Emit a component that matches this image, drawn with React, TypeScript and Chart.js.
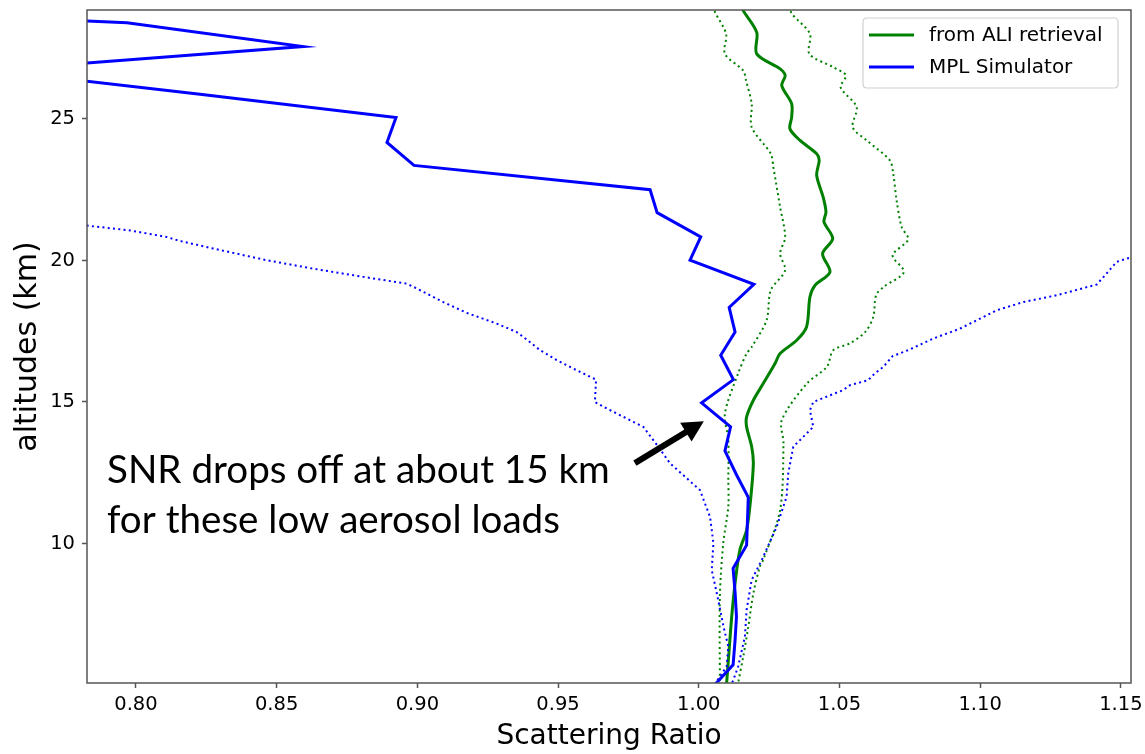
import React, { useEffect, useRef } from 'react';
import { Chart, registerables } from 'chart.js';

Chart.register(...registerables);

// ---------- data (altitude in km, scattering ratio) ----------
const mplAlt = [29.24, 28.40, 27.56, 26.72, 25.88, 25.05, 24.17, 23.36, 22.50, 21.69, 20.83, 20.01, 19.16, 18.34, 17.47, 16.65, 15.79, 14.97, 14.12, 13.27, 12.43, 11.63, 10.79, 9.94, 9.12, 8.28, 7.42, 6.58, 5.71, 4.87];
const mplVal = [0.600, 0.7968, 0.8593, 0.7485, 0.8220, 0.8924, 0.8892, 0.8988, 0.9827, 0.9852, 1.0007, 0.9969, 1.0196, 1.0108, 1.0129, 1.0078, 1.0123, 1.0010, 1.0113, 1.0093, 1.0134, 1.0176, 1.0173, 1.0170, 1.0122, 1.0129, 1.0134, 1.0129, 1.0122, 1.0044];

const mplLowAlt = [21.47, 21.22, 21.06, 20.83, 20.69, 20.42, 20.01, 19.71, 19.42, 19.18, 19.01, 18.53, 18.15, 17.77, 17.47, 17.21, 16.83, 16.48, 16.18, 15.79, 15.00, 14.77, 14.12, 13.42, 12.83, 11.89, 10.94, 10.01, 9.06, 8.25, 7.06, 6.36, 5.65, 5.12, 4.9];
const mplLowVal = [0.760, 0.7837, 0.7979, 0.8109, 0.8156, 0.8275, 0.8464, 0.8630, 0.8808, 0.8962, 0.8998, 0.9092, 0.9175, 0.9282, 0.9353, 0.9388, 0.9436, 0.9495, 0.9554, 0.9635, 0.9631, 0.9673, 0.9803, 0.9856, 0.9898, 1.0004, 1.0040, 1.0052, 1.0046, 1.0064, 1.0088, 1.0105, 1.0099, 1.0063, 1.0050];

const mplHighAlt = [20.55, 20.10, 19.95, 19.48, 19.15, 18.77, 18.53, 18.24, 17.59, 17.24, 16.83, 16.62, 16.24, 16.01, 15.77, 15.59, 15.42, 15.00, 14.71, 14.12, 13.42, 12.48, 11.65, 10.59, 9.42, 8.71, 7.65, 6.71, 5.65, 5.18, 4.9];
const mplHighVal = [1.175, 1.1532, 1.1485, 1.1444, 1.1414, 1.1272, 1.1153, 1.1059, 1.0928, 1.0833, 1.0744, 1.0689, 1.0656, 1.0626, 1.0602, 1.0537, 1.0513, 1.0407, 1.0395, 1.0407, 1.0336, 1.0318, 1.0312, 1.0277, 1.0224, 1.0188, 1.0170, 1.0164, 1.0140, 1.0123, 1.0110];

const aliAlt = [29.0, 28.83, 28.06, 27.30, 26.77, 26.54, 26.18, 25.54, 25.06, 24.65, 24.24, 23.77, 23.54, 23.01, 22.24, 21.71, 21.36, 20.77, 20.24, 19.59, 19.12, 18.71, 17.65, 17.18, 16.71, 16.36, 15.65, 15.06, 14.47, 14.12, 13.42, 12.83, 11.53, 10.47, 9.77, 8.59, 7.41, 6.24, 5.07, 4.9];
const aliVal = [1.0153, 1.0158, 1.0206, 1.0206, 1.0289, 1.0307, 1.0295, 1.0330, 1.0330, 1.0324, 1.0360, 1.0419, 1.0428, 1.0419, 1.0442, 1.0452, 1.0445, 1.0476, 1.0440, 1.0466, 1.0413, 1.0395, 1.0383, 1.0348, 1.0289, 1.0271, 1.0229, 1.0194, 1.0170, 1.0170, 1.0188, 1.0194, 1.0184, 1.0170, 1.0146, 1.0129, 1.0117, 1.0108, 1.0099, 1.0098];

const aliLowAlt = [29.0, 28.77, 28.01, 27.30, 26.71, 26.36, 25.54, 24.71, 23.77, 23.30, 21.89, 20.83, 20.24, 19.65, 18.95, 17.89, 16.94, 16.71, 16.01, 14.59, 13.65, 12.24, 11.30, 10.01, 8.12, 5.07, 4.9];
const aliLowVal = [1.0052, 1.0058, 1.0097, 1.0093, 1.0158, 1.0168, 1.0188, 1.0188, 1.0256, 1.0265, 1.0289, 1.0307, 1.0289, 1.0307, 1.0256, 1.0241, 1.0188, 1.0170, 1.0140, 1.0093, 1.0105, 1.0105, 1.0105, 1.0087, 1.0075, 1.0075, 1.0075];

const aliHighAlt = [29.0, 28.73, 28.01, 27.30, 26.83, 26.54, 26.12, 25.42, 24.71, 24.24, 23.54, 23.07, 22.12, 21.18, 20.74, 20.18, 19.59, 19.06, 18.77, 18.00, 17.47, 17.07, 16.83, 16.24, 15.65, 14.36, 13.54, 11.18, 9.42, 9.18, 8.24, 7.06, 6.00, 5.07, 4.9];
const aliHighVal = [1.0325, 1.0330, 1.0395, 1.0393, 1.0478, 1.0523, 1.0504, 1.0561, 1.0547, 1.0597, 1.0679, 1.0691, 1.0703, 1.0721, 1.0744, 1.0689, 1.0729, 1.0656, 1.0630, 1.0620, 1.0591, 1.0537, 1.0478, 1.0455, 1.0384, 1.0295, 1.0301, 1.0289, 1.0229, 1.0217, 1.0194, 1.0176, 1.0158, 1.0140, 1.0138];

const xTicks = [0.80, 0.85, 0.90, 0.95, 1.00, 1.05, 1.10, 1.15];
const yTicks = [10, 15, 20, 25];
const xRange = [0.7826, 1.1536];
const yRange = [5.07, 28.85];

const legendLabels = ['from ALI retrieval', 'MPL Simulator'];
const noteLines = ['SNR drops off at about 15 km', 'for these low aerosol loads'];
// annotation anchors in data units
const noteAnchor = { x: 0.7897, y1: 12.13, y2: 10.37, xEnd: 0.9684 };
const arrowFrom = { x: 0.9773, y: 12.84 };
const arrowTo = { x: 1.0018, y: 14.32 };

const GREEN = '#008000';
const BLUE = '#0000ff';

const pts = (alt: number[], val: number[]) => alt.map((a, i) => ({ x: val[i], y: a }));

const overlayPlugin = {
  id: 'overlay',
  afterDatasetsDraw(chart: any) {
    const { ctx, chartArea: a, scales } = chart;
    const xs = scales.x;
    const ys = scales.y;
    ctx.save();
    // frame (spines)
    ctx.strokeStyle = '#555';
    ctx.lineWidth = 1.5;
    ctx.strokeRect(a.left, a.top, a.right - a.left, a.bottom - a.top);

    // legend
    const bw = 255, bh = 70;
    const bx = a.right - 13 - bw, by = a.top + 8;
    const r = 4;
    ctx.beginPath();
    ctx.moveTo(bx + r, by);
    ctx.lineTo(bx + bw - r, by);
    ctx.quadraticCurveTo(bx + bw, by, bx + bw, by + r);
    ctx.lineTo(bx + bw, by + bh - r);
    ctx.quadraticCurveTo(bx + bw, by + bh, bx + bw - r, by + bh);
    ctx.lineTo(bx + r, by + bh);
    ctx.quadraticCurveTo(bx, by + bh, bx, by + bh - r);
    ctx.lineTo(bx, by + r);
    ctx.quadraticCurveTo(bx, by, bx + r, by);
    ctx.closePath();
    ctx.fillStyle = 'rgba(255,255,255,0.8)';
    ctx.fill();
    ctx.strokeStyle = '#d0d0d0';
    ctx.lineWidth = 1.2;
    ctx.stroke();
    ctx.font = '20px "DejaVu Sans"';
    ctx.textBaseline = 'middle';
    ctx.textAlign = 'left';
    legendLabels.forEach((lab, i) => {
      const ds = chart.data.datasets.find((d: any) => d.label === lab);
      const yy = by + 17 + i * 32;
      ctx.strokeStyle = ds ? ds.borderColor : '#000';
      ctx.lineWidth = 3;
      ctx.setLineDash([]);
      ctx.beginPath();
      ctx.moveTo(bx + 6, yy);
      ctx.lineTo(bx + 51, yy);
      ctx.stroke();
      ctx.fillStyle = '#000';
      ctx.fillText(lab, bx + 66, yy + 1);
    });

    // annotation text
    const tx = xs.getPixelForValue(noteAnchor.x);
    const txEnd = xs.getPixelForValue(noteAnchor.xEnd);
    ctx.font = '36px Lato';
    const w0 = ctx.measureText(noteLines[0]).width;
    const size = 36 * (txEnd - tx) / w0;
    ctx.font = `${size}px Lato`;
    ctx.fillStyle = '#000';
    ctx.textBaseline = 'alphabetic';
    ctx.fillText(noteLines[0], tx, ys.getPixelForValue(noteAnchor.y1));
    ctx.fillText(noteLines[1], tx, ys.getPixelForValue(noteAnchor.y2));

    // arrow
    const x0 = xs.getPixelForValue(arrowFrom.x), y0 = ys.getPixelForValue(arrowFrom.y);
    const x1 = xs.getPixelForValue(arrowTo.x), y1 = ys.getPixelForValue(arrowTo.y);
    const ang = Math.atan2(y1 - y0, x1 - x0);
    const hl = 21, hw = 11;
    const bxp = x1 - hl * Math.cos(ang), byp = y1 - hl * Math.sin(ang);
    ctx.strokeStyle = '#000';
    ctx.lineWidth = 6;
    ctx.lineCap = 'butt';
    ctx.beginPath();
    ctx.moveTo(x0, y0);
    ctx.lineTo(bxp + 2 * Math.cos(ang), byp + 2 * Math.sin(ang));
    ctx.stroke();
    ctx.fillStyle = '#000';
    ctx.beginPath();
    ctx.moveTo(x1, y1);
    ctx.lineTo(bxp + hw * Math.sin(ang), byp - hw * Math.cos(ang));
    ctx.lineTo(bxp - hw * Math.sin(ang), byp + hw * Math.cos(ang));
    ctx.closePath();
    ctx.fill();
    ctx.restore();
  },
};

export default function App() {
  const ref = useRef<HTMLCanvasElement>(null);
  useEffect(() => {
    document.body.style.margin = '0';
    const solid = (label: string, color: string, alt: number[], val: number[], tension: number) => ({
      label,
      data: pts(alt, val),
      borderColor: color,
      backgroundColor: color,
      borderWidth: 3,
      showLine: true,
      pointRadius: 0,
      tension,
      clip: 0,
    });
    const dotted = (color: string, alt: number[], val: number[], tension: number) => ({
      label: '',
      data: pts(alt, val),
      borderColor: color,
      backgroundColor: color,
      borderWidth: 2,
      borderDash: [2, 3.3],
      showLine: true,
      pointRadius: 0,
      tension,
      clip: 0,
    });
    const tickFont = { family: 'DejaVu Sans', size: 19.5 };
    const chart = new Chart(ref.current as HTMLCanvasElement, {
      type: 'scatter',
      data: {
        datasets: [
          solid('MPL Simulator', BLUE, mplAlt, mplVal, 0),
          dotted(BLUE, mplLowAlt, mplLowVal, 0),
          dotted(BLUE, mplHighAlt, mplHighVal, 0),
          solid('from ALI retrieval', GREEN, aliAlt, aliVal, 0.3),
          dotted(GREEN, aliLowAlt, aliLowVal, 0.3),
          dotted(GREEN, aliHighAlt, aliHighVal, 0.3),
        ] as any,
      },
      options: {
        responsive: false,
        animation: false,
        layout: { padding: { left: 0, top: 10, right: 14, bottom: 0 } },
        plugins: { legend: { display: false }, tooltip: { enabled: false } },
        scales: {
          x: {
            type: 'linear',
            min: xRange[0],
            max: xRange[1],
            afterBuildTicks: (s: any) => { s.ticks = xTicks.map((v) => ({ value: v })); },
            afterFit: (s: any) => { s.height = 71; s.paddingLeft = 0; s.paddingRight = 0; },
            ticks: { font: tickFont, color: '#000', padding: 5, maxRotation: 0, autoSkip: false, callback: (v: any) => Number(v).toFixed(2) },
            grid: { display: true, drawOnChartArea: false, drawTicks: true, tickLength: 5, tickColor: '#555', tickWidth: 1.5 },
            border: { display: false },
            title: { display: true, text: 'Scattering Ratio', color: '#000', font: { family: 'DejaVu Sans', size: 28 }, padding: { top: 0, bottom: 0 } },
          },
          y: {
            type: 'linear',
            min: yRange[0],
            max: yRange[1],
            afterBuildTicks: (s: any) => { s.ticks = yTicks.map((v) => ({ value: v })); },
            afterFit: (s: any) => { s.width = 87; s.paddingTop = 0; s.paddingBottom = 0; },
            ticks: { font: tickFont, color: '#000', padding: 7, autoSkip: false, callback: (v: any) => String(v) },
            grid: { display: true, drawOnChartArea: false, drawTicks: true, tickLength: 5, tickColor: '#555', tickWidth: 1.5 },
            border: { display: false },
            title: { display: true, text: 'altitudes (km)', color: '#000', font: { family: 'DejaVu Sans', size: 30 }, padding: { top: 10, bottom: 0 } },
          },
        },
      },
      plugins: [overlayPlugin],
    } as any);
    return () => chart.destroy();
  }, []);
  return (
    <div style={{ position: 'absolute', left: 0, top: 0, width: 1145, height: 754, background: '#fff' }}>
      <canvas ref={ref} width={1145} height={754} style={{ display: 'block' }} />
    </div>
  );
}
